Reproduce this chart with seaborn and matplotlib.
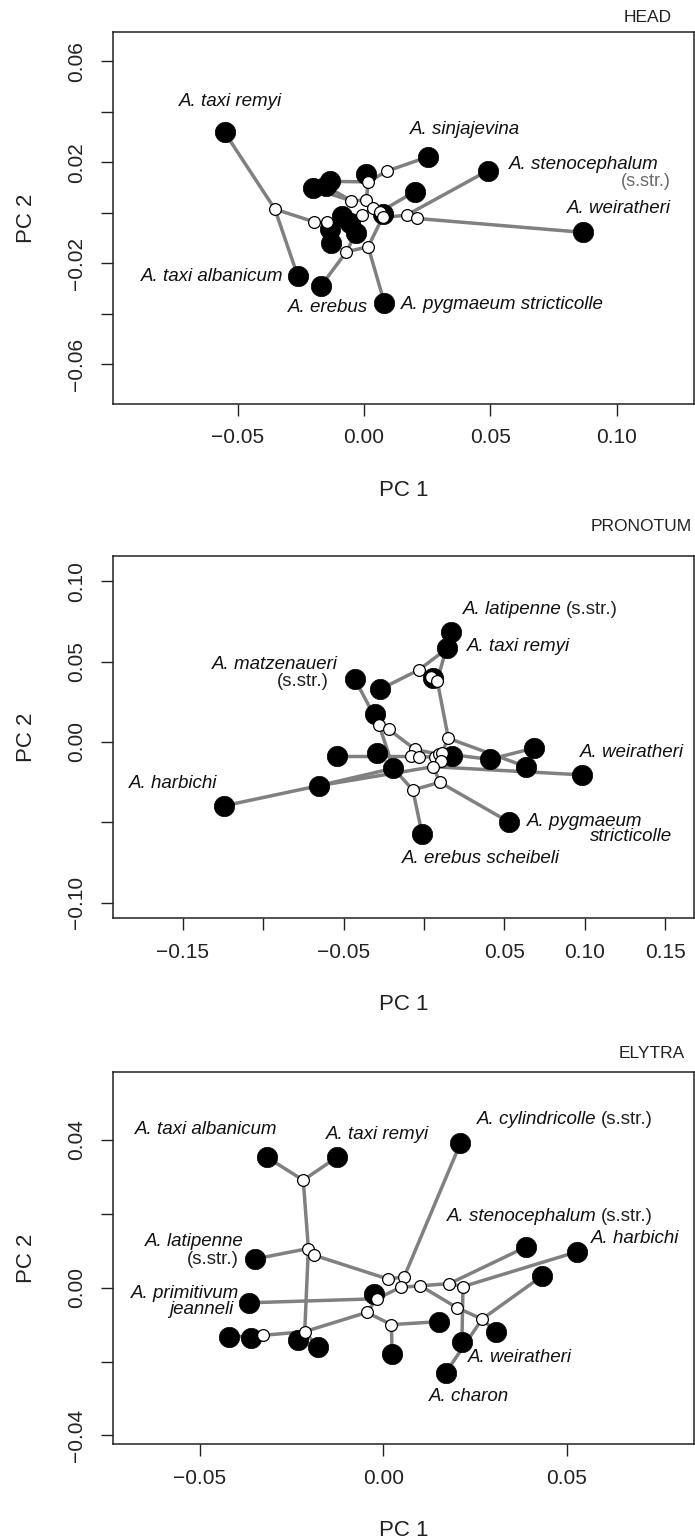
import numpy as np
import pandas as pd
import matplotlib
matplotlib.use("Agg")
import matplotlib.pyplot as plt
import seaborn as sns

sns.set_style("ticks")
plt.rcParams['font.family'] = ['Liberation Sans', 'DejaVu Sans']

# ---------------- HEAD ----------------
head_tip_x = [-0.0552, 0.0252, 0.0489, 0.0867, -0.0263, -0.0170, 0.0080, 0.0008, 0.0200,
              -0.0135, -0.0203, -0.0150, -0.0087, -0.0057, -0.0136, -0.0130, -0.0032, 0.0073]
head_tip_y = [0.0319, 0.0222, 0.0167, -0.0077, -0.0249, -0.0288, -0.0355, 0.0156, 0.0084,
              0.0125, 0.0097, 0.0105, -0.0014, -0.0040, -0.0065, -0.0119, -0.0079, -0.0004]
head_node_x = [-0.0353, -0.0199, -0.0146, -0.0050, 0.0009, 0.0016, 0.0091, 0.0036, -0.0010,
               0.0062, 0.0073, 0.0168, 0.0210, -0.0070, 0.0016]
head_node_y = [0.0015, -0.0035, -0.0035, 0.0048, 0.0051, 0.0123, 0.0166, 0.0020, -0.0009,
               0.0004, -0.0018, -0.0009, -0.0022, -0.0154, -0.0134]
head_edges = [('t0', 'n0'), ('n0', 't4'), ('n0', 'n1'), ('n1', 'n2'), ('n2', 'n8'), ('n2', 't14'),
              ('n2', 't15'), ('n3', 't10'), ('n3', 't11'), ('n3', 'n4'), ('n4', 'n5'), ('n5', 't9'),
              ('n5', 't7'), ('n5', 'n6'), ('n6', 't1'), ('n4', 'n7'), ('n7', 'n9'), ('n9', 't8'),
              ('n9', 't17'), ('n9', 'n10'), ('n10', 'n11'), ('n11', 't2'), ('n11', 'n12'),
              ('n12', 't3'), ('n10', 'n14'), ('n14', 't6'), ('n14', 'n13'), ('n13', 't5'),
              ('n13', 't16'), ('n8', 'n7'), ('n8', 't12'), ('n8', 't13')]
head_labels = ["A. taxi remyi", "A. sinjajevina", "A. stenocephalum", "A. weiratheri",
               "A. taxi albanicum", "A. erebus", "A. pygmaeum stricticolle"]
head_label_x = [-0.0529, 0.0400, 0.0572, 0.1215, -0.0319, 0.0014, 0.0146]
head_label_y = [0.0443, 0.0331, 0.0190, 0.0018, -0.0250, -0.0374, -0.0361]
head_label_ha = ['center', 'center', 'left', 'right', 'right', 'right', 'left']
head_xticks = [-0.05, 0.00, 0.05, 0.10]
head_xticklabels = ["−0.05", "0.00", "0.05", "0.10"]
head_yticks = [-0.06, -0.04, -0.02, 0.00, 0.02, 0.04, 0.06]
head_yticklabels = ["−0.06", "", "−0.02", "", "0.02", "", "0.06"]

# ---------------- PRONOTUM ----------------
pron_tip_x = [-0.1245, -0.0653, -0.0543, -0.0289, -0.0190, -0.0303, -0.0430, -0.0273, 0.0168,
              0.0146, 0.0058, 0.0174, 0.0408, 0.0683, 0.0636, 0.0986, 0.0532, -0.0011]
pron_tip_y = [-0.0398, -0.0272, -0.0087, -0.0071, -0.0164, 0.0174, 0.0392, 0.0328, 0.0687,
              0.0583, 0.0400, -0.0085, -0.0108, -0.0039, -0.0154, -0.0205, -0.0500, -0.0573]
pron_node_x = [-0.0033, 0.0041, 0.0083, 0.0152, -0.0278, -0.0220, -0.0055, -0.0080, -0.0033,
               0.0072, 0.0091, 0.0110, 0.0105, 0.0058, 0.0099, -0.0069]
pron_node_y = [0.0448, 0.0402, 0.0382, 0.0023, 0.0104, 0.0079, -0.0046, -0.0087, -0.0095,
               -0.0091, -0.0077, -0.0071, -0.0116, -0.0154, -0.0251, -0.0299]
pron_edges = [('t7', 'n0'), ('n0', 't9'), ('n0', 'n1'), ('n1', 't10'), ('n1', 'n2'), ('n2', 't8'),
              ('n2', 'n3'), ('n3', 't14'), ('n3', 'n11'), ('t13', 't12'), ('t12', 'n11'),
              ('n4', 't6'), ('n4', 't5'), ('n4', 'n5'), ('n4', 't4'), ('n5', 'n6'), ('n6', 'n10'),
              ('t2', 'n7'), ('n7', 'n8'), ('n8', 'n9'), ('n9', 'n10'), ('n10', 'n11'),
              ('n11', 't11'), ('n9', 'n12'), ('n12', 'n13'), ('n13', 't15'), ('n13', 't1'),
              ('t1', 't0'), ('t1', 't4'), ('t4', 'n15'), ('n15', 't17'), ('n15', 'n14'),
              ('n14', 't16'), ('n14', 'n13')]
pron_labels = ["A. latipenne", "A. taxi remyi", "A. matzenaueri", "A. weiratheri",
               "A. harbichi", "A. pygmaeum", "stricticolle", "A. erebus scheibeli"]
pron_label_x = [0.0242, 0.0270, -0.0537, 0.1620, -0.1287, 0.0642, 0.1545, 0.0353]
pron_label_y = [0.0822, 0.0593, 0.0485, -0.0066, -0.0257, -0.0496, -0.0590, -0.0724]
pron_label_ha = ['left', 'left', 'right', 'right', 'right', 'left', 'right', 'center']
pron_xticks = [-0.15, -0.10, -0.05, 0.00, 0.05, 0.10, 0.15]
pron_xticklabels = ["−0.15", "", "−0.05", "", "0.05", "0.10", "0.15"]
pron_yticks = [-0.10, -0.05, 0.00, 0.05, 0.10]
pron_yticklabels = ["−0.10", "", "0.00", "0.05", "0.10"]

# ---------------- ELYTRA ----------------
ely_tip_x = [-0.0317, -0.0125, 0.0210, 0.0388, 0.0527, 0.0433, -0.0348, -0.0367, -0.0025,
             -0.0419, -0.0359, -0.0231, -0.0178, 0.0024, 0.0152, 0.0308, 0.0214, 0.0170]
ely_tip_y = [0.0353, 0.0354, 0.0391, 0.0110, 0.0097, 0.0032, 0.0078, -0.0041, -0.0017,
             -0.0134, -0.0137, -0.0142, -0.0161, -0.0179, -0.0092, -0.0121, -0.0148, -0.0230]
ely_node_x = [-0.0218, -0.0204, -0.0189, 0.0014, 0.0057, 0.0047, 0.0101, 0.0180, 0.0217,
              -0.0017, 0.0202, 0.0269, -0.0045, 0.0022, -0.0214, -0.0327]
ely_node_y = [0.0291, 0.0106, 0.0088, 0.0023, 0.0030, 0.0001, 0.0005, 0.0011, 0.0003,
              -0.0030, -0.0055, -0.0085, -0.0067, -0.0100, -0.0119, -0.0129]
ely_edges = [('n0', 't0'), ('n0', 't1'), ('n0', 'n1'), ('n1', 't6'), ('n1', 'n2'), ('n1', 'n14'),
             ('n2', 'n3'), ('n3', 'n4'), ('n4', 't2'), ('n4', 'n5'), ('n5', 'n9'), ('n9', 't7'),
             ('n9', 't8'), ('n5', 'n6'), ('n6', 'n7'), ('n7', 't3'), ('n7', 'n8'), ('n8', 't4'),
             ('n8', 't16'), ('n6', 'n10'), ('n10', 'n11'), ('n11', 't15'), ('n11', 't5'),
             ('n11', 't17'), ('n14', 't11'), ('n14', 't12'), ('n14', 'n15'), ('n15', 't10'),
             ('n15', 't9'), ('n14', 'n12'), ('n12', 'n9'), ('n12', 'n13'), ('n13', 't13'),
             ('n13', 't14')]
ely_labels = ["A. taxi albanicum", "A. taxi remyi", "A. cylindricolle", "A. stenocephalum",
              "A. harbichi", "A. latipenne", "A. primitivum", "jeanneli", "A. weiratheri",
              "A. charon"]
ely_label_x = [-0.0483, -0.0016, 0.0255, 0.0173, 0.0565, -0.0381, -0.0393, -0.0407, 0.0231, 0.0234]
ely_label_y = [0.0428, 0.0415, 0.0455, 0.0194, 0.0133, 0.0124, -0.0017, -0.0059, -0.0189, -0.0295]
ely_label_ha = ['center', 'center', 'left', 'left', 'left', 'right', 'right', 'right', 'left', 'center']
ely_xticks = [-0.05, 0.00, 0.05]
ely_xticklabels = ["−0.05", "0.00", "0.05"]
ely_yticks = [-0.04, -0.02, 0.00, 0.02, 0.04]
ely_yticklabels = ["−0.04", "", "0.00", "", "0.04"]

LINE_C = '#808080'
LABEL_FS = 13.5


def draw_panel(ax, tip_x, tip_y, node_x, node_y, edges):
    pts = {}
    for i, (x, y) in enumerate(zip(tip_x, tip_y)):
        pts[f't{i}'] = (x, y)
    for i, (x, y) in enumerate(zip(node_x, node_y)):
        pts[f'n{i}'] = (x, y)
    rows = []
    for k, (a, b) in enumerate(edges):
        rows.append(dict(edge=k, step=0, x=pts[a][0], y=pts[a][1]))
        rows.append(dict(edge=k, step=1, x=pts[b][0], y=pts[b][1]))
    df = pd.DataFrame(rows)
    sns.lineplot(data=df, x='x', y='y', units='edge', estimator=None, sort=False,
                 color=LINE_C, lw=2.5, ax=ax, legend=False, zorder=1,
                 solid_capstyle='round')
    sns.scatterplot(x=tip_x, y=tip_y, s=215, color='black', edgecolor='black',
                    linewidth=0.5, ax=ax, zorder=3)
    sns.scatterplot(x=node_x, y=node_y, s=72, color='white', edgecolor='black',
                    linewidth=0.9, ax=ax, zorder=4)


def style_axes(ax, xlim, ylim, xticks, xtl, yticks, ytl, ax_h_px):
    ax.set_xlim(*xlim)
    ax.set_ylim(*ylim)
    ax.set_xticks(xticks)
    ax.set_xticklabels(xtl)
    ax.set_yticks(yticks)
    ax.set_yticklabels(ytl, rotation=90, va='center')
    ax.tick_params(axis='both', direction='out', length=8.6, width=1.0,
                   labelsize=15, colors='#222222')
    ax.tick_params(axis='x', pad=9)
    ax.tick_params(axis='y', pad=11)
    for sp in ax.spines.values():
        sp.set_visible(True)
        sp.set_linewidth(1.1)
        sp.set_color('#222222')
    ax.set_xlabel("PC 1", fontsize=16, color='#222222')
    ax.set_ylabel("PC 2", fontsize=16, color='#222222')
    ax.xaxis.label.set_va('center')
    ax.yaxis.label.set_va('center')
    ax.xaxis.set_label_coords(0.5, -86 / ax_h_px)
    ax.yaxis.set_label_coords(-86 / 581, 0.5)


def add_labels(ax, names, xs, ys, has):
    arts = {}
    for n, x, y, h in zip(names, xs, ys, has):
        arts[n] = ax.text(x, y, n, ha=h, va='center', fontsize=LABEL_FS,
                          fontstyle='italic', color='#111111', zorder=5)
    return arts


W, H = 695, 1540
fig = plt.figure(figsize=(W / 100, H / 100), dpi=100)
left = 113 / W
width = (694 - 113) / W


def axes_at(top_px, bottom_px):
    return fig.add_axes([left, 1 - bottom_px / H, width, (bottom_px - top_px) / H])


# HEAD
ax1 = axes_at(31.7, 404)
draw_panel(ax1, head_tip_x, head_tip_y, head_node_x, head_node_y, head_edges)
style_axes(ax1, (-0.0994, 0.1306), (-0.0757, 0.0718), head_xticks, head_xticklabels,
           head_yticks, head_yticklabels, 404 - 31.7)
add_labels(ax1, head_labels, head_label_x, head_label_y, head_label_ha)
ax1.text(0.1215, 0.0124, "(s.str.)", ha='right', va='center', fontsize=LABEL_FS - 0.5,
         color='#6a6a6a', zorder=5)
fig.text(671.5 / W, 1 - 18 / H, "HEAD", ha='right', va='center', fontsize=12.5, color='#222222')

# PRONOTUM
ax2 = axes_at(555.7, 918.3)
draw_panel(ax2, pron_tip_x, pron_tip_y, pron_node_x, pron_node_y, pron_edges)
style_axes(ax2, (-0.1934, 0.1680), (-0.1098, 0.1160), pron_xticks, pron_xticklabels,
           pron_yticks, pron_yticklabels, 918.3 - 555.7)
a2 = add_labels(ax2, pron_labels, pron_label_x, pron_label_y, pron_label_ha)
ax2.annotate("(s.str.)", xy=(1, 0.5), xycoords=a2["A. latipenne"], xytext=(3, 0),
             textcoords='offset points', ha='left', va='center', fontsize=LABEL_FS,
             color='#222222', zorder=5)
ax2.text(-0.0592, 0.0376, "(s.str.)", ha='right', va='center', fontsize=LABEL_FS,
         color='#222222', zorder=5)
fig.text(691.5 / W, 1 - 526.7 / H, "PRONOTUM", ha='right', va='center', fontsize=12.5,
         color='#222222')

# ELYTRA
ax3 = axes_at(1072.3, 1444.3)
draw_panel(ax3, ely_tip_x, ely_tip_y, ely_node_x, ely_node_y, ely_edges)
style_axes(ax3, (-0.0736, 0.0846), (-0.0424, 0.0583), ely_xticks, ely_xticklabels,
           ely_yticks, ely_yticklabels, 1444.3 - 1072.3)
a3 = add_labels(ax3, ely_labels, ely_label_x, ely_label_y, ely_label_ha)
for nm in ["A. cylindricolle", "A. stenocephalum"]:
    ax3.annotate("(s.str.)", xy=(1, 0.5), xycoords=a3[nm], xytext=(3, 0),
                 textcoords='offset points', ha='left', va='center', fontsize=LABEL_FS,
                 color='#222222', zorder=5)
ax3.text(-0.0393, 0.0077, "(s.str.)", ha='right', va='center', fontsize=LABEL_FS,
         color='#222222', zorder=5)
fig.text(685 / W, 1 - 1053 / H, "ELYTRA", ha='right', va='center', fontsize=12.5,
         color='#222222')

fig.savefig("out.png", dpi=100, facecolor='white')
